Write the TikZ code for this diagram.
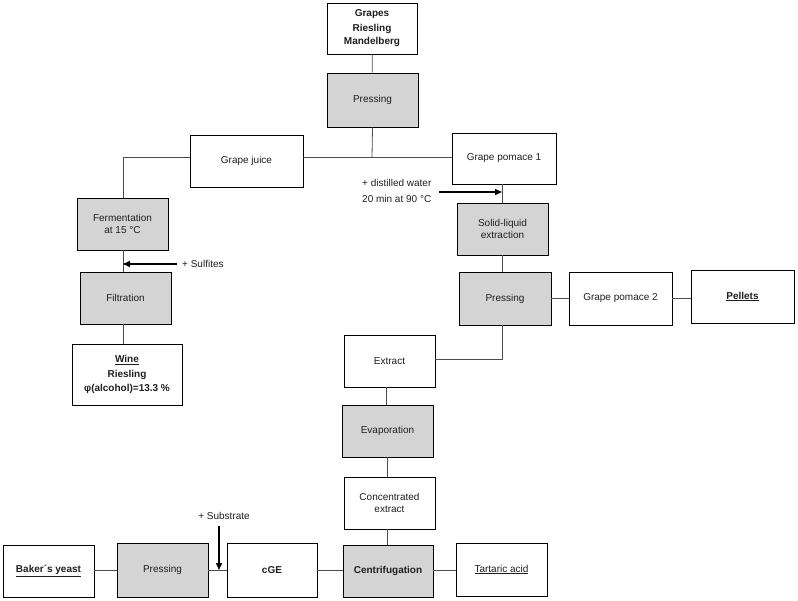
\documentclass[tikz,border=0pt]{standalone}
\usepackage{fontspec}
\setmainfont{Liberation Sans}
\usetikzlibrary{arrows.meta}
\begin{document}
\begin{tikzpicture}[x=1pt,y=-1pt,
  box/.style={draw=black, line width=0.9pt, fill=white, inner sep=1pt, align=center,
    font=\fontsize{10}{12}\selectfont, text=black!88},
  grey/.style={box, fill=black!17},
  sz/.style 2 args={minimum width=#1pt, minimum height=#2pt},
  conn/.style={draw=black!70, line width=0.8pt},
  add/.style={line width=1.4pt, -{Triangle[length=7pt,width=6pt]}},
  lbl/.style={font=\fontsize{10}{16}\selectfont, inner sep=0pt, align=left, text=black!88}]
\useasboundingbox (0,0) rectangle (798,600);

% left / top
\node[box, sz={90}{51}] (grapes) at (372,28.5) {\textbf{Grapes}\\[3pt]\textbf{Riesling}\\[1pt]\textbf{Mandelberg}};
\node[grey, sz={91}{54}] (press1) at (372.5,100) {Pressing};
\node[box, sz={113}{52}] (juice) at (246.5,161) {Grape juice};
\node[box, sz={104}{51}] (pom1) at (504,158.5) {Grape pomace 1};
\node[grey, sz={91}{52}] (ferm) at (122.5,224) {Fermentation\\at 15 °C};
\node[grey, sz={91}{52}] (filt) at (125.5,298) {Filtration};
\node[box, sz={110}{61}] (wine) at (127,374.5) {\textbf{\underline{Wine}}\\[3pt]\textbf{Riesling}\\[2pt]\textbf{φ(alcohol)=13.3 \%}};

% right branch
\node[grey, sz={91}{52}] (sle) at (502.5,229) {Solid-liquid\\extraction};
\node[grey, sz={92}{53}] (press2) at (505,298.5) {Pressing};
\node[box, sz={103}{53}] (pom2) at (620.5,298.5) {Grape pomace 2};
\node[box, sz={103}{53}] (pellets) at (742.5,296.5) {\textbf{\underline{Pellets}}};
\node[box, sz={91}{52}] (extract) at (389.5,361) {Extract};
\node[grey, sz={91}{52}] (evap) at (387.5,431) {Evaporation};
\node[box, sz={91}{52}] (conc) at (389.5,503) {Concentrated\\extract};

% bottom row
\node[box, sz={91}{52}] (baker) at (48.5,571) {\textbf{\underline{Baker´s yeast}}};
\node[grey, sz={91}{54}] (press3) at (162.5,570) {Pressing};
\node[box, sz={90}{54}] (cge) at (272,570) {\textbf{cGE}};
\node[grey, sz={90}{52}] (centr) at (388,571) {\textbf{Centrifugation}};
\node[box, sz={91}{53}] (tart) at (501.5,569.5) {\underline{Tartaric acid}};

% junctions
\coordinate (j) at (372,157);
\coordinate (fx) at (123,0);
\coordinate (px) at (502,0);
\coordinate (ey) at (0,359);
\coordinate (by) at (0,570);
\coordinate (sub) at (219,570);

% connectors
\draw[conn] (grapes) -- (press1);
\draw[conn] (press1.south) -- (j);
\draw[conn] (juice.east |- j) -- (pom1.west |- j);
\draw[conn] (juice.west |- j) -| (fx |- ferm.north);
\draw[conn] (fx |- ferm.south) -- (fx |- filt.north);
\draw[conn] (fx |- filt.south) -- (fx |- wine.north);
\draw[conn] (px |- pom1.south) -- (px |- sle.north);
\draw[conn] (px |- sle.south) -- (px |- press2.north);
\draw[conn] (press2.east) -- (pom2.west);
\draw[conn] (pom2.east) -- (pom2.east -| pellets.west);
\draw[conn] (px |- press2.south) |- (extract.east |- ey);
\draw[conn] (386,0 |- extract.south) -- (386,0 |- evap.north);
\draw[conn] (387,0 |- evap.south) -- (387,0 |- conc.north);
\draw[conn] (387,0 |- conc.south) -- (387,0 |- centr.north);
\draw[conn] (baker.east |- by) -- (press3.west |- by);
\draw[conn] (press3.east |- by) -- (cge.west |- by);
\draw[conn] (cge.east |- by) -- (centr.west |- by);
\draw[conn] (centr.east |- by) -- (tart.west |- by);

% additions
\node[lbl, anchor=west] (sulf) at (182,264) {+ Sulfites};
\draw[add] (177,264) -- (fx |- sulf);
\node[lbl, anchor=north west] (water) at (362,179) {+ distilled water\\20 min at 90 °C};
\draw[add] (439,192) -- (502,192);
\node[lbl] (subtxt) at (224,516) {+ Substrate};
\draw[add] (219,526) -- (sub);
\end{tikzpicture}
\end{document}
